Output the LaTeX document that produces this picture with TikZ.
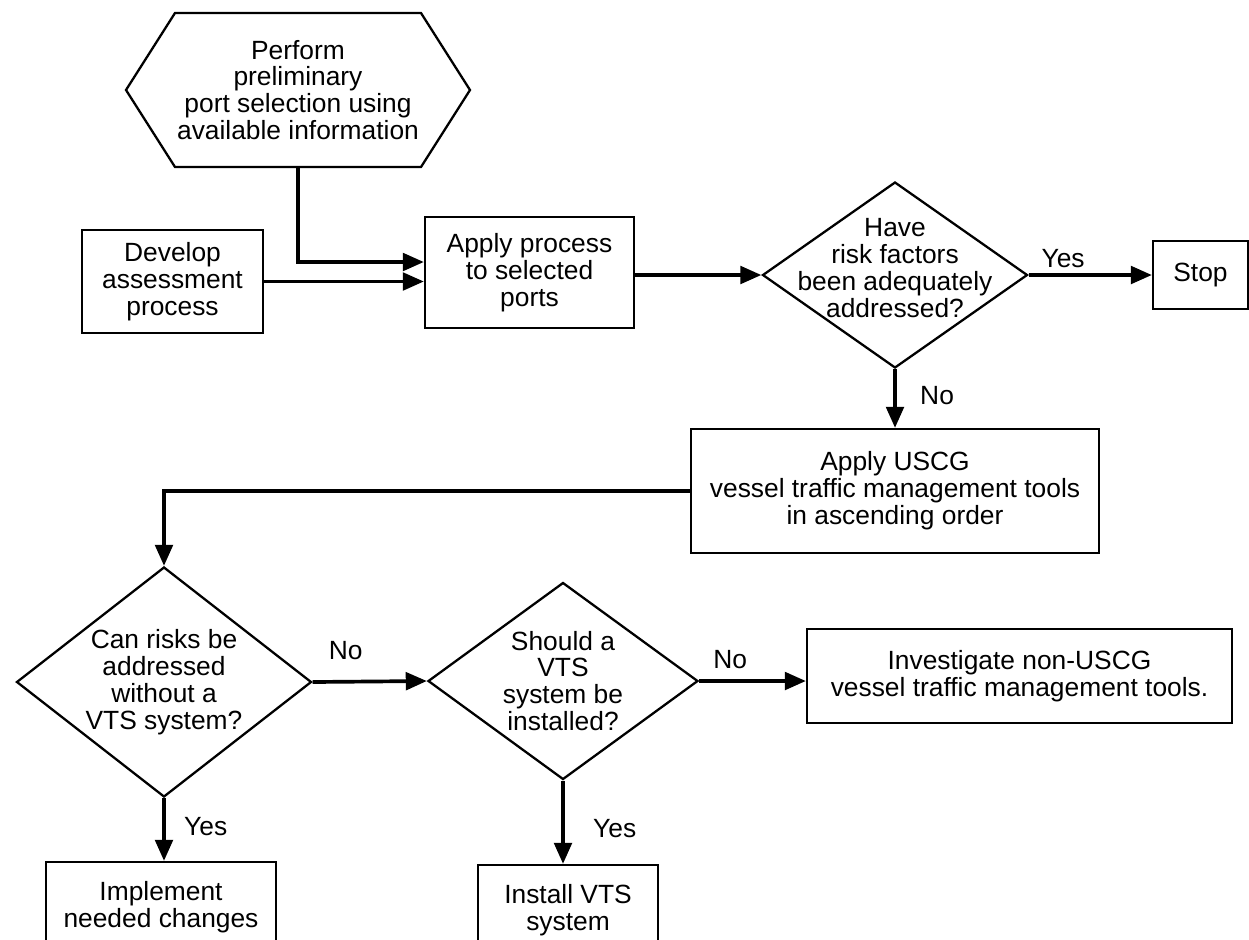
\documentclass[tikz,border=0pt]{standalone}
\usepackage{fontspec}
\setmainfont{Liberation Sans}
\usetikzlibrary{arrows.meta, shapes.geometric}
\tikzset{
>={Triangle[length=12pt,width=10pt]}, % filled triangle arrow heads
every node/.style={font=\fontsize{15}{15.3}\selectfont}, % text size of all nodes
block/.style={draw, line width=1.3pt, align=center, inner sep=0pt}, % process boxes
decision/.style={draw, diamond, line width=1.3pt, inner sep=0pt}, % question diamonds
qtext/.style={align=center, inner sep=0pt}, % text set inside a diamond
flow/.style={->, line width=2.1pt}, % connectors between shapes
}

\begin{document}
\begin{tikzpicture}
    \clip (0,0) rectangle (24.98,-18.78);

    % hexagon at the top
    \draw[line width=1.3pt] (2.52,-1.80) -- (3.50,-0.26) -- (8.42,-0.26) -- (9.40,-1.80)
         -- (8.42,-3.34) -- (3.50,-3.34) -- cycle;
    \node[qtext, minimum height=3.08cm] (hex) at (5.96,-1.80)
         {Perform\\preliminary\\port selection using\\available information};

    \node[block, minimum width=3.62cm, minimum height=2.06cm] (dev) at (3.45,-5.63)
         {Develop\\assessment\\process};
    \node[block, minimum width=4.18cm, minimum height=2.22cm] (apply) at (10.59,-5.45)
         {Apply process\\to selected\\ports};

    \node[decision, minimum width=5.30cm, minimum height=3.72cm] (d1) at (17.90,-5.50) {};
    \node[qtext] (d1text) at ([yshift=1.4mm]d1)
         {Have\\risk factors\\been adequately\\addressed?};
    \node[block, minimum width=1.90cm, minimum height=1.36cm] (stop) at (24.01,-5.50) {Stop};

    \node[block, minimum width=8.16cm, minimum height=2.48cm] (uscg) at (17.90,-9.82)
         {Apply USCG\\vessel traffic management tools\\in ascending order};

    \node[decision, minimum width=5.90cm, minimum height=4.60cm] (d2) at (3.28,-13.64) {};
    \node[qtext] (d2text) at (d2)
         {Can risks be\\addressed\\without a\\VTS system?};
    \node[decision, minimum width=5.40cm, minimum height=3.94cm] (d3) at (11.26,-13.62) {};
    \node[qtext] (d3text) at (d3)
         {Should a\\VTS\\system be\\installed?};
    \node[block, minimum width=8.50cm, minimum height=1.88cm] (invest) at (20.39,-13.52)
         {Investigate non-USCG\\vessel traffic management tools.};

    \node[block, minimum width=4.60cm, minimum height=1.80cm] (impl) at (3.22,-18.14)
         {Implement\\needed changes};
    \node[block, minimum width=3.60cm, minimum height=1.80cm] (install) at (11.36,-18.20)
         {Install VTS\\system};

    % connectors
    \draw[flow] (hex.south) |- ([yshift=2.1mm]apply.west);
    \draw[flow] (dev.east) -- (dev.east -| apply.west);
    \draw[flow] (apply.east |- d1.west) -- (d1.west);
    \draw[flow] (d1.east) -- (stop.west) node[above, pos=0.28] {Yes};
    \draw[flow] (d1.south) -- (uscg.north) node[right, xshift=3.5mm, pos=0.45] {No};
    \draw[flow] (uscg.west) -| (d2.north);
    \draw[flow] (d2.east) -- (d3.west) node[above, yshift=2.8mm, pos=0.29] {No};
    \draw[flow] (d3.east) -- (d3.east -| invest.west) node[above, yshift=1mm, pos=0.29] {No};
    \draw[flow] (d2.south) -- (d2.south |- impl.north) node[right, xshift=2.5mm, pos=0.46] {Yes};
    \draw[flow] (d3.south) -- (d3.south |- install.north) node[right, xshift=4.5mm, pos=0.57] {Yes};
\end{tikzpicture}
\end{document}
